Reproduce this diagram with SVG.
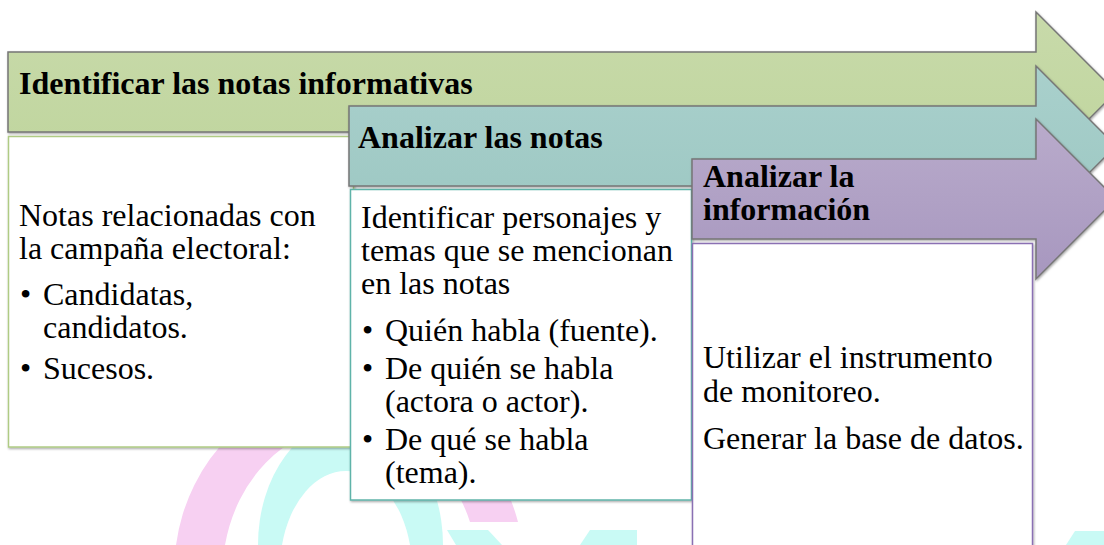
<svg xmlns="http://www.w3.org/2000/svg" width="1104" height="545" viewBox="0 0 1104 545">
<style>
.hd{font-family:"Liberation Serif","Times New Roman",serif;font-weight:bold;font-size:32px;fill:#000}
.tx{font-family:"Liberation Serif","Times New Roman",serif;font-size:32px;fill:#000}
.arrow{stroke:#767676;stroke-width:1.5;stroke-linejoin:miter}
.box{fill:#fff;stroke-width:1.5}
</style>
<defs>
<linearGradient id="gG" x1="0" y1="0" x2="0" y2="1"><stop offset="0" stop-color="#c8daaa"/><stop offset="1" stop-color="#bfd59d"/></linearGradient>
<linearGradient id="gT" x1="0" y1="0" x2="0" y2="1"><stop offset="0" stop-color="#a9d0cc"/><stop offset="1" stop-color="#9cc7c2"/></linearGradient>
<linearGradient id="gP" x1="0" y1="0" x2="0" y2="1"><stop offset="0" stop-color="#b9abcb"/><stop offset="1" stop-color="#a797bf"/></linearGradient>
<filter id="sh" x="-5%" y="-5%" width="110%" height="120%"><feDropShadow dx="0.8" dy="1.2" stdDeviation="0.8" flood-color="#000" flood-opacity="0.35"/></filter>
</defs>

<g id="watermark">
<path d="M176,545 A175,185 0 0 1 518,522 L470,522 A128,150 0 0 0 225,545 Z" fill="#f7d0f2"/>
<path d="M258,545 A92,125 0 0 1 443,545 L410,545 A66,98 0 0 0 282,545 Z" fill="#c9faf5"/>
<polygon points="447,530 488,530 502,545 456,545" fill="#c9faf5"/>
<polygon points="590,530 637,530 637,545 580,545" fill="#c9faf5"/>
<polygon points="1075,531 1104,531 1104,545 1066,545" fill="#c9faf5"/>
</g>

<g id="step1">
<path class="arrow" filter="url(#sh)" fill="url(#gG)" d="M8,52 L1036,52 L1036,12 L1116,92 L1036,172 L1036,132 L8,132 Z"/>
<text class="hd" x="19" y="94">Identificar las notas informativas</text>
</g>
<g id="box1">
<rect class="box" x="8.5" y="136.5" width="345" height="310.5" stroke="#afcb84" filter="url(#sh)"/>
<text class="tx" x="19" y="226">Notas relacionadas  con</text>
<text class="tx" x="19" y="259">la campaña electoral:</text>
<text class="tx" x="20" y="305">•</text>
<text class="tx" x="43" y="305">Candidatas,</text>
<text class="tx" x="43" y="338">candidatos.</text>
<text class="tx" x="20" y="379">•</text>
<text class="tx" x="43" y="379">Sucesos.</text>
</g>

<g id="step2">
<path class="arrow" filter="url(#sh)" fill="url(#gT)" d="M349,106 L1036,106 L1036,66 L1116,146 L1036,226 L1036,186 L349,186 Z"/>
<text class="hd" x="358" y="148">Analizar las notas</text>
</g>
<g id="box2">
<rect class="box" x="350.5" y="189.5" width="341" height="310.5" stroke="#5fb3a9" filter="url(#sh)"/>
<text class="tx" x="361" y="228">Identificar personajes y</text>
<text class="tx" x="361" y="261">temas que se mencionan</text>
<text class="tx" x="361" y="294">en las notas</text>
<text class="tx" x="362" y="341">•</text>
<text class="tx" x="385" y="341">Quién habla (fuente).</text>
<text class="tx" x="362" y="379">•</text>
<text class="tx" x="385" y="379">De quién se habla</text>
<text class="tx" x="385" y="412">(actora o actor).</text>
<text class="tx" x="362" y="450">•</text>
<text class="tx" x="385" y="450">De qué se habla</text>
<text class="tx" x="385" y="483">(tema).</text>
</g>

<g id="step3">
<path class="arrow" filter="url(#sh)" fill="url(#gP)" d="M692,159 L1036,159 L1036,119 L1116,199 L1036,279 L1036,239 L692,239 Z"/>
<text class="hd" x="703" y="187">Analizar la</text>
<text class="hd" x="703" y="220">información</text>
</g>
<g id="box3">
<rect class="box" x="692.5" y="243.5" width="340" height="320" stroke="#8a70b3" filter="url(#sh)"/>
<text class="tx" x="703" y="368">Utilizar el instrumento</text>
<text class="tx" x="703" y="402">de monitoreo.</text>
<text class="tx" x="703" y="449">Generar la base de datos.</text>
</g>

<g id="connectors"></g>
</svg>
